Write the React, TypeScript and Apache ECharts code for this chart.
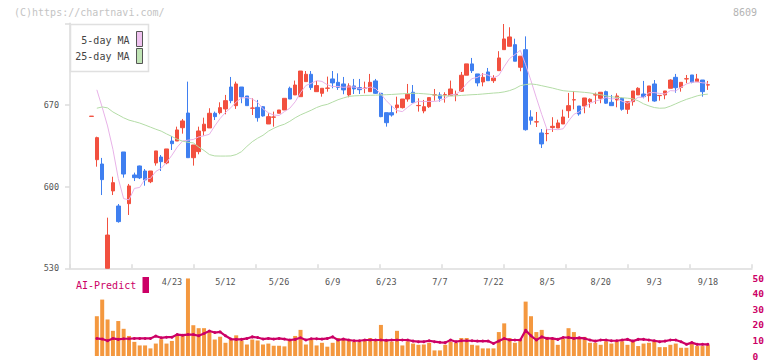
import React, { useEffect, useRef } from "react";
import * as echarts from "echarts";

const dates = ["4/2","4/3","4/4","4/7","4/8","4/9","4/10","4/11","4/14","4/15","4/16","4/17","4/18","4/21","4/22","4/23","4/24","4/25","4/28","4/30","5/1","5/2","5/7","5/8","5/9","5/12","5/13","5/14","5/15","5/16","5/19","5/20","5/21","5/22","5/23","5/26","5/27","5/28","5/29","5/30","6/2","6/3","6/4","6/5","6/6","6/9","6/10","6/11","6/12","6/13","6/16","6/17","6/18","6/19","6/20","6/23","6/24","6/25","6/26","6/27","6/30","7/1","7/2","7/3","7/4","7/7","7/8","7/9","7/10","7/11","7/14","7/15","7/16","7/17","7/18","7/22","7/23","7/24","7/25","7/28","7/29","7/30","7/31","8/1","8/4","8/5","8/6","8/7","8/8","8/12","8/13","8/14","8/15","8/18","8/19","8/20","8/21","8/22","8/25","8/26","8/27","8/28","8/29","9/1","9/2","9/3","9/4","9/5","9/8","9/9","9/10","9/11","9/12","9/16","9/17","9/18"];

const opens = [660.2,623.1,619.4,530,596.3,583.4,629.7,585.4,610.0,617.7,
613.4,604.2,620.3,625.4,620.3,639.1,639.1,650.5,663.1,624.8,
630.0,647.7,650.3,662.9,663.4,666.6,685.4,669.4,685.4,677.7,
667.2,668.0,668.5,653.7,659.5,662.9,665.7,684.3,678.6,677.1,
690.0,696.3,681.4,680.0,684.3,692.3,689.4,688.0,678.6,686.3,
684.9,684.3,681.4,690.6,680.0,663.4,663.4,667.7,667.7,675.1,
680.9,669.4,664.9,668.5,678.6,678.6,678.6,678.0,678.8,681.7,
695.5,705.2,696.6,689.7,698.3,690.8,699.4,717.4,720.3,721.7,
702.3,717.4,659.7,655.4,646.0,645.4,650.7,650.3,653.7,665.1,
674.3,669.1,669.1,672.8,678.6,675.7,681.4,672.3,674.3,675.7,
666.3,672.8,678.6,679.4,678.0,688.0,678.0,678.6,684.3,693.7,
685.1,692.3,695.7,690.0,691.4,687.1];

const closes = [660.4,642.0,606.0,558.5,603.4,570.0,610.8,600.6,607.7,607.5,
605.7,613.4,630.6,621.4,632.3,636.8,648.6,656.3,624.8,635.7,
647.7,653.5,662.9,660.0,667.7,673.7,673.7,688.0,676.9,669.4,
667.4,659.1,660.6,660.0,659.7,665.7,675.7,675.1,687.1,699.1,
696.3,684.9,686.6,684.3,684.5,688.9,685.1,682.9,686.3,683.7,
683.1,684.5,689.4,680.0,660.0,654.8,661.4,670.0,675.1,679.2,
672.0,669.6,668.5,676.3,678.8,675.7,678.8,683.7,679.0,695.5,
705.2,699.4,688.9,693.7,690.8,693.1,710.3,726.6,728.3,707.5,
711.8,648.8,656.9,655.6,636.6,645.6,651.7,654.6,659.7,669.4,
674.5,662.3,676.0,674.9,678.8,680.9,671.5,669.4,677.7,666.3,
672.8,682.0,684.3,677.1,686.3,673.4,678.2,682.0,691.4,684.8,
689.4,692.5,689.5,692.3,681.4,687.3];

const lows = [660.2,617.1,592.8,530,592.8,569.1,607.7,575.7,604.8,606.5,
600.8,603.0,618.0,613.4,619.2,631.4,639.1,645.4,624.8,618.0,
627.7,643.7,650.3,657.1,662.0,662.0,671.5,666.6,671.5,669.4,
661.4,655.7,660.0,653.7,651.4,662.9,665.7,675.1,678.6,677.1,
690.0,682.9,681.4,677.1,681.4,684.3,682.9,679.2,676.6,679.4,
679.4,680.0,681.4,679.4,659.5,651.4,660.0,662.9,667.0,672.8,
672.0,664.3,662.9,667.5,673.7,672.8,672.0,678.0,673.2,681.2,
695.5,697.4,686.0,686.0,690.8,688.9,699.4,717.4,720.3,707.5,
698.9,648.0,653.1,651.1,633.1,638.9,646.9,650.3,653.7,658.9,
666.3,660.8,662.9,667.7,670.9,671.5,670.9,669.4,668.0,665.1,
662.3,669.4,678.6,675.7,672.8,672.8,673.7,674.9,684.3,680.5,
681.4,688.6,688.6,690.0,677.1,682.9];

const highs = [660.4,642.8,624.6,573.4,608.5,585.1,629.7,602.3,612.0,618.0,
615.1,613.4,630.6,627.1,632.3,643.4,651.4,658.0,690.0,635.7,
651.4,659.1,667.2,664.3,672.3,678.6,694.0,690.0,685.4,677.7,
675.7,674.3,669.0,662.9,664.3,665.7,675.7,685.7,690.9,699.1,
699.1,699.1,690.6,684.3,694.3,699.1,697.1,694.0,688.6,692.3,
692.3,690.0,696.6,692.3,680.0,663.4,669.4,677.1,675.1,688.0,
687.1,675.7,674.3,676.3,683.7,680.9,680.9,690.9,682.3,698.3,
705.2,710.3,696.6,697.4,701.7,695.5,716.1,739.4,736.6,726.8,
711.8,728.8,665.5,664.0,649.4,649.4,659.5,657.4,666.0,680.3,
682.0,669.1,676.0,675.7,680.6,680.9,682.3,678.6,680.0,676.3,
672.8,682.0,685.2,690.6,686.3,691.4,678.2,682.0,692.0,696.6,
689.4,695.7,695.7,696.6,691.4,690.6];

const ma5 = [null,683,668,652,632,607,589.7,588.7,598.5,599.3,
606.5,607.0,613.0,615.7,620.7,626.9,633.9,639.1,639.8,640.4,
642.6,643.6,644.9,652.0,658.4,663.6,667.6,672.6,676.0,676.3,
675.1,672.2,666.7,663.3,661.4,661.0,664.3,667.2,672.7,680.5,
686.7,688.5,690.8,690.2,687.3,685.8,685.9,685.1,685.5,685.4,
684.2,684.1,685.4,684.1,679.4,673.7,669.1,665.2,664.3,668.1,
671.5,673.2,672.9,673.1,673.0,673.8,675.6,678.7,679.2,682.5,
688.4,692.6,693.6,696.5,695.6,693.2,695.4,702.9,709.8,713.2,
716.9,704.6,690.7,676.1,661.9,648.7,649.3,648.8,649.6,656.2,
662.0,664.1,668.4,671.4,673.3,674.6,676.4,675.1,675.7,673.2,
671.5,673.6,676.6,676.5,680.5,680.6,679.9,679.4,682.3,682.0,
685.2,688.0,689.5,689.7,689.0,688.6];

const ma25 = [null,667.2,668.3,667.5,664.0,661.5,659.0,657.0,655.8,654.5,
652.8,651.0,649.2,647.6,645.2,643.0,640.6,639.0,638.0,637.5,
634.0,631.0,627.5,626.3,626.2,626.2,626.3,627.5,630.0,634.5,
638.5,641.5,644.0,647.5,650.0,652.0,653.5,656.0,659.0,661.5,
663.5,665.5,667.8,669.5,670.5,672.5,674.5,676.0,677.3,677.8,
678.0,678.2,678.3,678.4,678.6,678.8,679.0,679.3,679.6,679.8,
680.0,679.9,679.6,679.2,678.6,678.0,677.8,677.7,677.8,678.2,
678.5,678.8,679.0,679.4,679.8,680.2,680.5,681.2,682.3,684.0,
686.5,687.5,688.0,687.5,686.5,685.5,684.5,683.3,682.2,681.8,
681.5,681.2,680.8,680.3,679.5,678.8,677.8,677.0,676.6,676.2,
675.8,675.3,673.5,671.0,669.2,667.8,667.2,667.4,669.0,671.0,
673.0,674.8,676.3,677.8,678.8,679.3];

const volumes = [null,25.6,36.3,23.5,16.2,22.5,17.5,12.9,9.1,6.8,
6.8,4.9,8.0,10.8,8.0,9.7,13.9,12.9,49.9,19.8,
17.9,17.9,15.4,10.6,12.4,8.5,10.6,13.3,9.9,7.4,
10.6,9.9,7.4,8.0,6.6,6.6,6.2,10.6,12.9,16.8,
7.4,10.6,6.8,8.5,6.0,8.5,11.6,10.6,10.6,9.1,
9.1,10.6,11.6,10.6,20.0,9.9,9.3,16.2,6.8,9.5,
8.0,7.2,7.4,8.5,3.6,3.6,7.2,9.1,8.5,11.6,
11.6,7.2,6.8,4.9,4.9,4.9,15.4,21.0,11.6,8.5,
11.0,35.0,25.6,15.4,16.8,12.3,11.0,7.2,11.0,17.9,
15.4,11.0,12.3,8.5,8.5,7.2,9.5,8.0,9.5,9.5,
7.2,9.9,6.4,8.0,8.5,9.9,5.7,5.7,7.2,8.0,
5.3,5.3,8.0,6.4,6.4,7.2];

const aiPredict = [null,11.3,10.9,9.8,11.3,10.7,11.1,11.1,11.3,11.3,
11.3,11.3,12.8,11.7,12.1,12.1,13.8,13.4,13.8,13.8,
13.0,14.5,16.1,15.1,15.5,13.0,10.9,10.7,10.7,11.3,
12.3,11.9,10.9,11.3,10.9,11.3,10.9,10.3,10.7,11.7,
10.3,11.1,11.1,10.9,11.3,12.3,10.3,10.9,10.3,9.8,
9.8,10.3,10.3,10.3,10.3,10.1,10.3,10.3,10.3,10.3,
9.6,9.2,9.2,9.8,9.2,8.8,8.6,10.3,9.2,9.8,
9.8,9.8,9.6,9.6,9.6,8.1,9.6,11.3,10.3,10.3,
10.3,16.5,13.0,10.3,12.3,11.3,11.3,10.7,11.9,11.9,
11.3,11.7,11.3,10.3,9.6,10.3,10.3,9.8,9.8,10.3,
10.7,9.6,10.7,10.7,10.3,9.8,9.2,9.6,10.3,10.3,
9.2,7.5,8.6,7.5,7.5,7.5];

const priceMin = 530;
const priceMax = 740;
const priceStep = 70;
const volumeMax = 50;
const volumeStep = 10;

const MONO = '"DejaVu Sans Mono", monospace';
const UP = "#f2503f";
const DOWN = "#3f7ff0";
const MA5_COLOR = "#e8b2e8";
const MA25_COLOR = "#b3dca6";
const VOL_COLOR = "#f4983f";
const AI_COLOR = "#cc0066";
const AXIS_GRAY = "#dcdcdc";

export default function App() {
  const ref = useRef<HTMLDivElement>(null);

  useEffect(() => {
    document.body.style.margin = "0";
    if (!ref.current) return;
    const chart = echarts.init(ref.current, null, { renderer: "svg", width: 772, height: 361 });

    const band = 5.36;
    const plotLeft = 88.8;
    const plotWidth = band * dates.length;
    const candleData = dates.map((_, i) => [opens[i], closes[i], lows[i], highs[i]]);

    const option: any = {
      animation: false,
      backgroundColor: "#ffffff",
      grid: [
        { left: plotLeft, top: 23.3, width: plotWidth, height: 245 },
        { left: plotLeft, top: 278.3, width: plotWidth, height: 79.7 },
        { left: 70, top: 23.3, width: 682, height: 245 },
      ],
      xAxis: [
        {
          type: "category",
          gridIndex: 0,
          data: dates,
          boundaryGap: true,
          axisLine: { show: false },
          axisTick: { show: false },
          splitLine: { show: false },
          axisLabel: {
            interval: (idx: number) => idx >= 15 && idx % 10 === 5,
            color: "#555",
            fontFamily: MONO,
            fontSize: 8.5,
            margin: 9,
          },
        },
        {
          type: "category",
          gridIndex: 1,
          data: dates,
          boundaryGap: true,
          show: false,
        },
        {
          type: "value",
          gridIndex: 2,
          min: 0,
          max: 682,
          interval: 62,
          axisLine: { show: true, lineStyle: { color: AXIS_GRAY, width: 1.5 } },
          axisTick: { show: true, inside: true, length: 4, lineStyle: { color: AXIS_GRAY, width: 1.5 } },
          axisLabel: { show: false },
          splitLine: { show: false },
        },
      ],
      yAxis: [
        { type: "value", gridIndex: 0, min: priceMin, max: priceMax, interval: priceStep, show: false },
        {
          type: "value",
          gridIndex: 1,
          min: 0,
          max: volumeMax,
          interval: volumeStep,
          position: "right",
          axisLine: { show: false },
          axisTick: { show: false },
          splitLine: { show: false },
          axisLabel: {
            color: AI_COLOR,
            fontFamily: MONO,
            fontSize: 9.5,
            fontWeight: "bold",
            margin: 42,
          },
        },
        {
          type: "value",
          gridIndex: 2,
          min: priceMin,
          max: priceMax,
          interval: priceStep,
          axisLine: { show: true, lineStyle: { color: AXIS_GRAY, width: 1.5 } },
          axisTick: { show: true, length: 5, lineStyle: { color: AXIS_GRAY, width: 1.5 } },
          splitLine: { show: false },
          axisLabel: {
            formatter: (v: number) => (v === priceMax ? "" : String(v)),
            color: "#555",
            fontFamily: MONO,
            fontSize: 8.5,
            margin: 11,
          },
        },
      ],
      series: [
        {
          name: "price",
          type: "candlestick",
          xAxisIndex: 0,
          yAxisIndex: 0,
          data: candleData,
          barWidth: 4,
          clip: true,
          itemStyle: {
            color: UP,
            color0: DOWN,
            borderColor: UP,
            borderColor0: DOWN,
            borderWidth: 1,
          },
        },
        {
          name: "5-day MA",
          type: "line",
          xAxisIndex: 0,
          yAxisIndex: 0,
          data: ma5,
          showSymbol: false,
          lineStyle: { color: MA5_COLOR, width: 1 },
          itemStyle: { color: MA5_COLOR },
        },
        {
          name: "25-day MA",
          type: "line",
          xAxisIndex: 0,
          yAxisIndex: 0,
          data: ma25,
          showSymbol: false,
          lineStyle: { color: MA25_COLOR, width: 1 },
          itemStyle: { color: MA25_COLOR },
        },
        {
          name: "volume",
          type: "bar",
          xAxisIndex: 1,
          yAxisIndex: 1,
          data: volumes,
          barWidth: 4,
          itemStyle: { color: VOL_COLOR },
        },
        {
          name: "AI-Predict",
          type: "line",
          xAxisIndex: 1,
          yAxisIndex: 1,
          data: aiPredict,
          symbol: "circle",
          symbolSize: 3,
          showSymbol: true,
          lineStyle: { color: AI_COLOR, width: 2.2 },
          itemStyle: { color: AI_COLOR },
        },
      ],
      graphic: [
        {
          type: "text",
          x: 14,
          y: 12.5,
          style: { text: "(C)https://chartnavi.com/", fill: "#c4c4c4", font: `10px ${MONO}`, verticalAlign: "middle", align: "left" },
        },
        {
          type: "text",
          x: 757,
          y: 12.5,
          style: { text: "8609", fill: "#b4b4b4", font: `10px ${MONO}`, verticalAlign: "middle", align: "right" },
        },
        {
          type: "rect",
          shape: { x: 70.5, y: 24.5, width: 78, height: 47 },
          style: { fill: "#ffffff", stroke: "#e0e0e0", lineWidth: 1.5 },
          z: 10,
        },
        {
          type: "text",
          x: 129.5,
          y: 40,
          z: 11,
          style: { text: "5-day MA", fill: "#444", font: `10px ${MONO}`, verticalAlign: "middle", align: "right" },
        },
        {
          type: "rect",
          z: 11,
          shape: { x: 136.5, y: 31.5, width: 6, height: 15 },
          style: { fill: "#efc2ef", stroke: "#555", lineWidth: 1 },
        },
        {
          type: "text",
          x: 129.5,
          y: 56.5,
          z: 11,
          style: { text: "25-day MA", fill: "#444", font: `10px ${MONO}`, verticalAlign: "middle", align: "right" },
        },
        {
          type: "rect",
          z: 11,
          shape: { x: 136.5, y: 48.5, width: 6, height: 15 },
          style: { fill: "#c0e4b5", stroke: "#555", lineWidth: 1 },
        },
        {
          type: "text",
          x: 76,
          y: 285.5,
          style: { text: "AI-Predict", fill: AI_COLOR, font: `10px ${MONO}`, verticalAlign: "middle", align: "left" },
        },
        {
          type: "rect",
          shape: { x: 142.5, y: 277, width: 6.5, height: 16 },
          style: { fill: AI_COLOR },
        },
      ],
    };

    chart.setOption(option);
    return () => chart.dispose();
  }, []);

  return <div ref={ref} style={{ width: 772, height: 361, position: "absolute", left: 0, top: 0 }} />;
}
